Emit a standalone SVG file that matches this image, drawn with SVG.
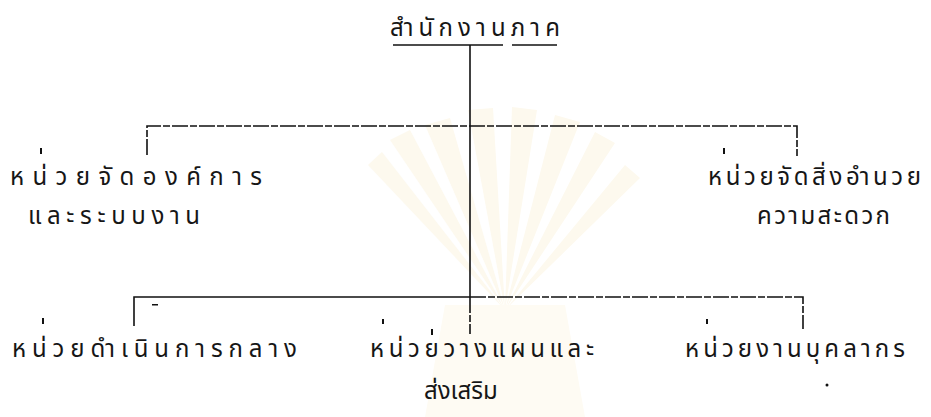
<svg xmlns="http://www.w3.org/2000/svg" width="931" height="417" viewBox="0 0 931 417">
<style>
.t{font-family:"Noto Sans Thai","Noto Sans","DejaVu Sans",sans-serif;font-size:24px;fill:#161616}
.ln{stroke:#111;stroke-width:1.6;fill:none}
.ds{stroke:#111;stroke-width:1.6;fill:none;stroke-dasharray:16 2 7 2}
.mk{fill:#111}
</style>
<rect width="931" height="417" fill="#fff"/>
<g id="watermark" fill="#fdf9ee" stroke="none">
<path d="M505 310 L425 125 L450 118 Z"/>
<path d="M505 310 L468 110 L493 108 Z"/>
<path d="M505 310 L512 107 L537 110 Z"/>
<path d="M505 310 L555 115 L580 122 Z"/>
<path d="M505 310 L595 132 L615 143 Z"/>
<path d="M505 310 L390 140 L410 130 Z"/>
<path d="M505 310 L368 165 L382 152 Z"/>
<path d="M505 310 L625 165 L640 178 Z"/>
<path d="M425 417 L445 305 L565 305 L585 417 Z" fill="#fefbf3"/>
</g>
<g id="connectors">
<line class="ln" x1="393" y1="45" x2="503" y2="45"/>
<line class="ln" x1="512" y1="45" x2="557" y2="45"/>
<line class="ln" x1="470" y1="45" x2="470" y2="297"/>
<line class="ds" x1="470" y1="297" x2="470" y2="334"/>
<polyline class="ds" points="147,155 147,126 797,126 797,156"/>
<polyline class="ln" points="134,326 134,297 470,297"/>
<polyline class="ds" points="470,297 803,297 803,329"/>
</g>
<g id="marks">
<rect class="mk" x="40" y="148" width="2" height="6"/>
<rect class="mk" x="723" y="148" width="2" height="6"/>
<rect class="mk" x="42" y="318" width="2" height="6"/>
<rect class="mk" x="152" y="304" width="6" height="1.5"/>
<rect class="mk" x="382" y="319" width="2" height="5"/>
<rect class="mk" x="706" y="319" width="2" height="5"/>
<rect class="mk" x="431" y="329" width="2" height="6"/>
<circle class="mk" cx="827" cy="385" r="1.5"/>
</g>
<g id="n-main"><text class="t" x="390" y="36" textLength="170" lengthAdjust="spacing">สำนักงานภาค</text></g>
<g id="n-org"><text class="t" x="10" y="185" textLength="252" lengthAdjust="spacing">หน่วยจัดองค์การ</text><text class="t" x="28" y="224" textLength="172" lengthAdjust="spacing">และระบบงาน</text></g>
<g id="n-fac"><text class="t" x="708" y="185" textLength="213" lengthAdjust="spacing">หน่วยจัดสิ่งอำนวย</text><text class="t" x="757" y="224" textLength="133" lengthAdjust="spacing">ความสะดวก</text></g>
<g id="n-ops"><text class="t" x="12" y="357" textLength="285" lengthAdjust="spacing">หน่วยดำเนินการกลาง</text></g>
<g id="n-plan"><text class="t" x="370" y="357" textLength="224" lengthAdjust="spacing">หน่วยวางแผนและ</text><text class="t" x="424" y="399">ส่งเสริม</text></g>
<g id="n-hr"><text class="t" x="685" y="357" textLength="220" lengthAdjust="spacing">หน่วยงานบุคลากร</text></g>
</svg>
